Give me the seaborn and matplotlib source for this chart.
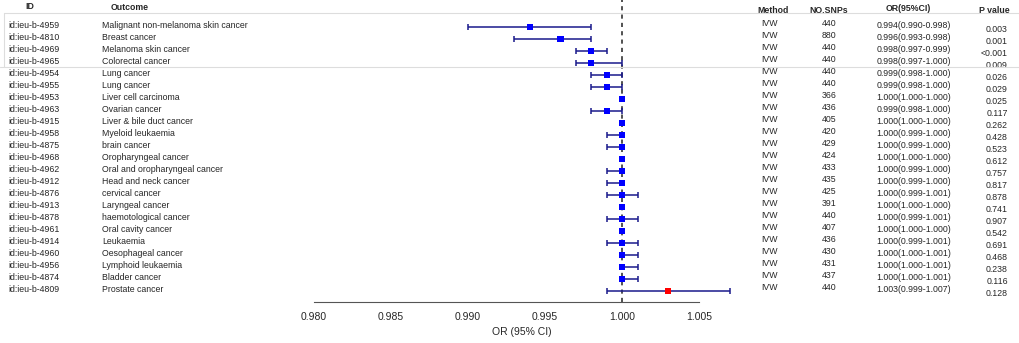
import pandas as pd
import seaborn as sns
import matplotlib.pyplot as plt
from matplotlib.transforms import blended_transform_factory
from matplotlib.lines import Line2D

ids = ["4959", "4810", "4969", "4965", "4954", "4955", "4953", "4963", "4915", "4958", "4875", "4968",
       "4962", "4912", "4876", "4913", "4878", "4961", "4914", "4960", "4956", "4874", "4809"]
outcomes = ["Malignant non-melanoma skin cancer", "Breast cancer", "Melanoma skin cancer", "Colorectal cancer",
            "Lung cancer", "Lung cancer", "Liver cell carcinoma", "Ovarian cancer", "Liver & bile duct cancer",
            "Myeloid leukaemia", "brain cancer", "Oropharyngeal cancer", "Oral and oropharyngeal cancer",
            "Head and neck cancer", "cervical cancer", "Laryngeal cancer", "haemotological cancer",
            "Oral cavity cancer", "Leukaemia", "Oesophageal cancer", "Lymphoid leukaemia", "Bladder cancer",
            "Prostate cancer"]
nsnps = [440, 880, 440, 440, 440, 440, 366, 436, 405, 420, 429, 424, 433, 435, 425, 391, 440, 407, 436, 430,
         431, 437, 440]
or_vals = [0.994, 0.996, 0.998, 0.998, 0.999, 0.999, 1.000, 0.999, 1.000, 1.000, 1.000, 1.000, 1.000, 1.000,
           1.000, 1.000, 1.000, 1.000, 1.000, 1.000, 1.000, 1.000, 1.003]
ci_low = [0.990, 0.993, 0.997, 0.997, 0.998, 0.998, 1.000, 0.998, 1.000, 0.999, 0.999, 1.000, 0.999, 0.999,
          0.999, 1.000, 0.999, 1.000, 0.999, 1.000, 1.000, 1.000, 0.999]
ci_high = [0.998, 0.998, 0.999, 1.000, 1.000, 1.000, 1.000, 1.000, 1.000, 1.000, 1.000, 1.000, 1.000, 1.000,
           1.001, 1.000, 1.001, 1.000, 1.001, 1.001, 1.001, 1.001, 1.007]
pvals = ["0.003", "0.001", "<0.001", "0.009", "0.026", "0.029", "0.025", "0.117", "0.262", "0.428", "0.523",
         "0.612", "0.757", "0.817", "0.878", "0.741", "0.907", "0.542", "0.691", "0.468", "0.238", "0.116",
         "0.128"]
xticks = [0.980, 0.985, 0.990, 0.995, 1.000, 1.005]

df = pd.DataFrame({"id": ids, "outcome": outcomes, "nsnp": nsnps, "or_": or_vals,
                   "lo": ci_low, "hi": ci_high, "p": pvals})
df["row"] = range(len(df))
df["risk"] = df["or_"] > 1

sns.set_style("white")
plt.rcParams["font.family"] = ["Liberation Sans", "DejaVu Sans"]

W, H = 1020, 343
fig = plt.figure(figsize=(W / 100, H / 100), dpi=100)
ax = fig.add_axes([314 / W, (H - 302) / H, 416 / W, 302 / H])

ax.axvline(1.0, color="#333333", lw=1.2, ls=(0, (2.5, 2.5)), zorder=1)
ax.errorbar(df["or_"], df["row"], xerr=[df["or_"] - df["lo"], df["hi"] - df["or_"]], fmt="none",
            ecolor="#1a1a8c", elinewidth=1.1, capsize=2.0, capthick=1.1, zorder=2)
sns.scatterplot(data=df, x="or_", y="row", hue="risk", palette={False: "#0000ff", True: "#ff0000"},
                marker="s", s=20, linewidth=0, legend=False, ax=ax, zorder=3)

ax.set_xlim(0.980, 1.007)
ax.set_ylim(22.917, -2.25)
ax.set_xticks(xticks)
ax.set_xticklabels([f"{t:.3f}" for t in xticks], fontsize=7.5)
ax.set_yticks([])
ax.set_ylabel("")
ax.set_xlabel("OR (95% CI)", fontsize=7.5, labelpad=4)
for s in ["top", "right", "left"]:
    ax.spines[s].set_visible(False)
ax.spines["bottom"].set_bounds(0.980, 1.005)
ax.spines["bottom"].set_color("#555555")
ax.tick_params(axis="x", direction="out", length=5, width=1, color="#555555", pad=2)
ax.patch.set_alpha(0)

# light grey box around the first rows
for xs, ys in [((4, W), (13, 13)), ((4, 4), (13, 67)), ((0, W), (67, 67))]:
    fig.add_artist(Line2D([x / W for x in xs], [1 - y / H for y in ys], color="#dddddd", lw=0.8))

tr = blended_transform_factory(fig.transFigure, ax.transData)
fs = 6.3
hy = -1.6
ax.text(30 / W, hy - 0.1, "ID", transform=tr, fontsize=fs, fontweight="bold", ha="center", va="center")
ax.text(111 / W, hy, "Outcome", transform=tr, fontsize=fs, fontweight="bold", ha="left", va="center")
ax.text(773 / W, hy + 0.25, "Method", transform=tr, fontsize=fs, fontweight="bold", ha="center", va="center")
ax.text(829 / W, hy + 0.2, "NO.SNPs", transform=tr, fontsize=fs, fontweight="bold", ha="center", va="center")
ax.text(908 / W, hy + 0.05, "OR(95%CI)", transform=tr, fontsize=fs, fontweight="bold", ha="center", va="center")
ax.text(994 / W, hy + 0.25, "P value", transform=tr, fontsize=fs, fontweight="bold", ha="center", va="center")

for _, r in df.iterrows():
    y = r["row"]
    ax.text(8 / W, y - 0.15, f"id:ieu-b-{r['id']}", transform=tr, fontsize=fs, ha="left", va="center")
    ax.text(102 / W, y - 0.15, r["outcome"], transform=tr, fontsize=fs, ha="left", va="center")
    ax.text(770 / W, y - 0.3, "IVW", transform=tr, fontsize=fs, ha="center", va="center")
    ax.text(829 / W, y - 0.3, str(r["nsnp"]), transform=tr, fontsize=fs, ha="center", va="center")
    ax.text(914 / W, y - 0.1, f"{r['or_']:.3f}({r['lo']:.3f}-{r['hi']:.3f})", transform=tr,
            fontsize=fs, ha="center", va="center")
    ax.text(1008 / W, y + 0.2, r["p"], transform=tr, fontsize=fs, ha="right", va="center")

fig.savefig("out.png", dpi=100)
